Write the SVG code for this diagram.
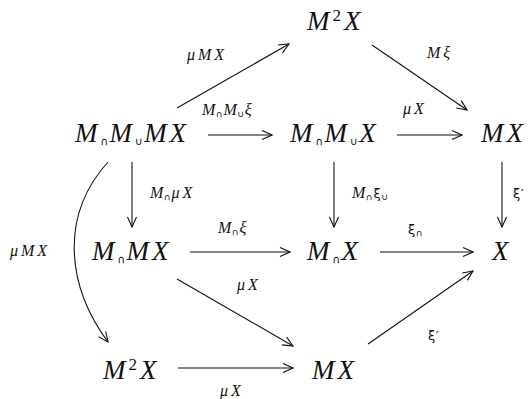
<svg xmlns="http://www.w3.org/2000/svg" width="529" height="399" viewBox="0 0 529 399">
<defs>
<style>
.n{font-family:"Liberation Serif",serif;font-style:italic;font-size:27px;letter-spacing:3px;fill:#111}
.l{font-family:"Liberation Serif",serif;font-style:italic;font-size:16px;letter-spacing:3px;fill:#111}
.t{letter-spacing:0.5px}
.s{font-family:"DejaVu Sans",sans-serif;font-style:normal;font-size:11px;letter-spacing:1px}
.ss{font-family:"DejaVu Sans",sans-serif;font-style:normal;font-size:9px;letter-spacing:1px}
.g{font-family:"DejaVu Sans",sans-serif;font-style:normal;font-size:13px;letter-spacing:0.5px}
.sup{font-size:17px;font-style:normal}
.c{fill:none;stroke:#111;stroke-width:1.1;marker-end:url(#ah)}
</style>
<marker id="ah" markerWidth="12" markerHeight="12" refX="0" refY="0" viewBox="-11 -6 12 12" orient="auto" markerUnits="userSpaceOnUse">
<path d="M-10,-4.5 L0,0 L-10,4.5" fill="none" stroke="#111" stroke-width="1.1"/>
</marker>
</defs>
<rect width="529" height="399" fill="#fff"/>
<g id="connectors">
<line class="c" x1="177" y1="108" x2="289" y2="44"/>
<line class="c" x1="372" y1="45" x2="467" y2="110"/>
<line class="c" x1="208" y1="135" x2="272" y2="135"/>
<line class="c" x1="397" y1="135" x2="462" y2="135"/>
<line class="c" x1="132" y1="162" x2="132" y2="227"/>
<line class="c" x1="334" y1="162" x2="334" y2="227"/>
<line class="c" x1="502" y1="162" x2="502" y2="227"/>
<line class="c" x1="190" y1="252" x2="290" y2="252"/>
<line class="c" x1="380" y1="252" x2="473" y2="252"/>
<line class="c" x1="177" y1="279" x2="293" y2="346"/>
<line class="c" x1="368" y1="344" x2="473" y2="271"/>
<line class="c" x1="178" y1="368" x2="293" y2="368"/>
<path class="c" d="M108,162 C60,215 66,285 108,342"/>
</g>
<g id="labels">
<text class="l" x="187" y="60">μMX</text>
<text class="l" x="202" y="115"><tspan class="t">M</tspan><tspan class="ss" dy="2">∩</tspan><tspan class="t" dy="-2">M</tspan><tspan class="ss" dy="2">∪</tspan><tspan dy="-2">ξ</tspan></text>
<text class="l" x="427" y="58">Mξ</text>
<text class="l" x="403" y="114">μX</text>
<text class="l" x="150" y="198"><tspan class="t">M</tspan><tspan class="ss" dy="2">∩</tspan><tspan dy="-2">μX</tspan></text>
<text class="l" x="352" y="198"><tspan class="t">M</tspan><tspan class="ss" dy="2">∩</tspan><tspan class="g" dy="-2">ξ</tspan><tspan class="ss" dy="2">∪</tspan></text>
<text class="l" x="513" y="198"><tspan class="g">ξ′</tspan></text>
<text class="l" x="10" y="256">μMX</text>
<text class="l" x="218" y="233"><tspan class="t">M</tspan><tspan class="ss" dy="2">∩</tspan><tspan dy="-2">ξ</tspan></text>
<text class="l" x="237" y="290">μX</text>
<text class="l" x="408" y="234"><tspan class="g">ξ</tspan><tspan class="ss" dy="2">∩</tspan></text>
<text class="l" x="428" y="340"><tspan class="g">ξ′</tspan></text>
<text class="l" x="220" y="396">μX</text>
</g>
<g id="n-m2x-top"><text class="n" x="307" y="30">M<tspan class="sup" dy="-9">2</tspan><tspan dy="9">X</tspan></text></g>
<g id="n-mmmx"><text class="n" x="75" y="142">M<tspan class="s" dy="3">∩</tspan><tspan dy="-3">M</tspan><tspan class="s" dy="3">∪</tspan><tspan dy="-3">MX</tspan></text></g>
<g id="n-mmx-top"><text class="n" x="290" y="142">M<tspan class="s" dy="3">∩</tspan><tspan dy="-3">M</tspan><tspan class="s" dy="3">∪</tspan><tspan dy="-3">X</tspan></text></g>
<g id="n-mx-right"><text class="n" x="481" y="142">MX</text></g>
<g id="n-mmx-mid"><text class="n" x="92" y="260">M<tspan class="s" dy="3">∩</tspan><tspan dy="-3">MX</tspan></text></g>
<g id="n-mx-mid"><text class="n" x="307" y="260">M<tspan class="s" dy="3">∩</tspan><tspan dy="-3">X</tspan></text></g>
<g id="n-x"><text class="n" x="492" y="260">X</text></g>
<g id="n-m2x-bottom"><text class="n" x="103" y="379">M<tspan class="sup" dy="-9">2</tspan><tspan dy="9">X</tspan></text></g>
<g id="n-mx-bottom"><text class="n" x="312" y="379">MX</text></g>
</svg>
